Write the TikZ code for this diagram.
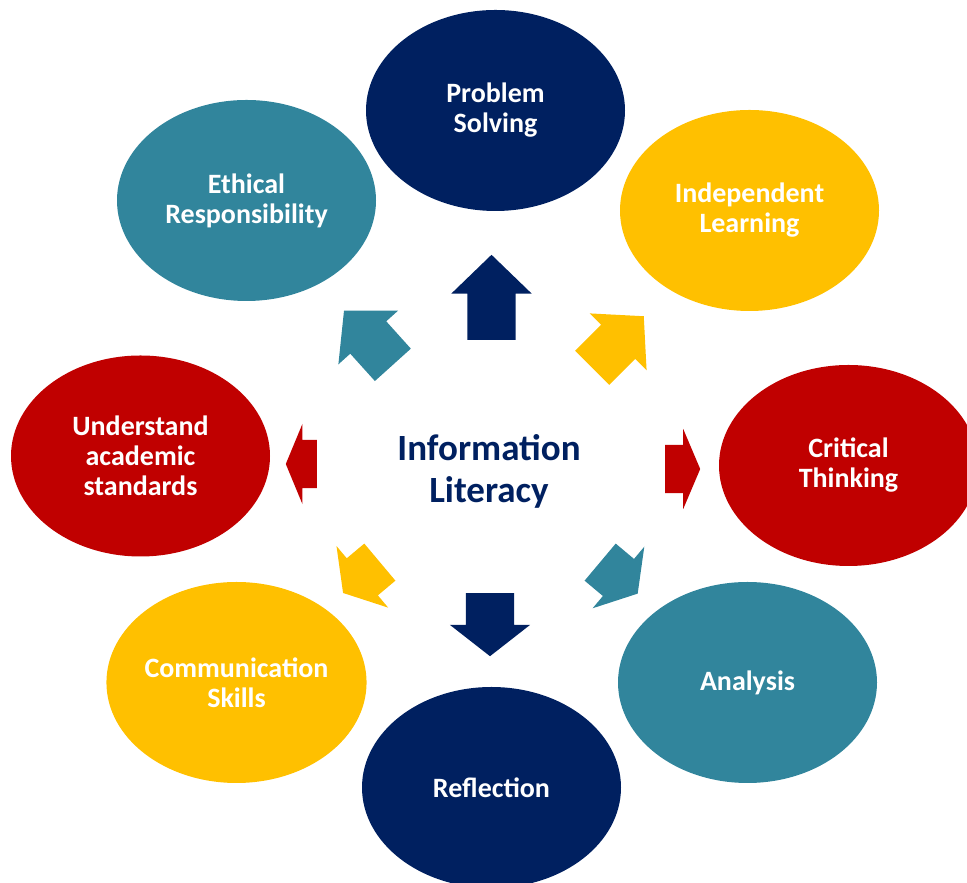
\documentclass[tikz,border=0pt]{standalone}
\usepackage{fontspec}
\setmainfont{Carlito}
\usetikzlibrary{shapes.geometric,shapes.arrows}
\definecolor{ilnavy}{HTML}{002060}
\definecolor{ilteal}{HTML}{31859C}
\definecolor{ilgold}{HTML}{FFC000}
\definecolor{ilred}{HTML}{C00000}
\tikzset{
  topic/.style    = {ellipse,minimum width=259pt,minimum height=201pt,inner sep=0pt,
                     text=white,align=center,font=\fontsize{28}{30}\selectfont\bfseries},
  blockarr/.style = {single arrow,draw=none,inner xsep=0pt,inner ysep=24pt,
                     single arrow head extend=16pt,single arrow head indent=0pt,anchor=tail},
  hub/.style      = {align=center,text=ilnavy,font=\fontsize{37}{42}\selectfont\bfseries}
}

\begin{document}
\begin{tikzpicture}[x=1pt,y=1pt]
  \useasboundingbox (0,0) rectangle (967,883);
  \clip (0,0) rectangle (967,883);

  % centre
  \node[hub] (info) at (489,412) {Information\\Literacy};

  % ring of topics
  \node[topic,fill=ilnavy] (solve)  at (495.5,772.5) {Problem\\Solving};
  \node[topic,fill=ilgold] (learn)  at (749.5,672.5) {Independent\\Learning};
  \node[topic,fill=ilred]  (crit)   at (848.5,417.5) {Critical\\Thinking};
  \node[topic,fill=ilteal] (anal)   at (747.5,200.5) {Analysis};
  \node[topic,fill=ilnavy] (refl)   at (491.5,95.5)  {Reflection};
  \node[topic,fill=ilgold] (comm)   at (236.5,200.5) {Communication\\Skills};
  \node[topic,fill=ilred]  (stand)  at (140.5,427)   {Understand\\academic\\standards};
  \node[topic,fill=ilteal] (ethic)  at (246.5,682.5) {Ethical\\Responsibility};

  % block arrows pointing outwards
  \node[blockarr,fill=ilnavy,rotate=90, minimum height=85pt,single arrow tip angle=92]  (aSolve) at (491.5,543) {};
  \node[blockarr,fill=ilgold,rotate=45, minimum height=73pt,single arrow tip angle=96]  (aLearn) at (592,515) {};
  \node[blockarr,fill=ilred, rotate=0,  minimum height=35pt,single arrow tip angle=134] (aCrit)  at (665,414) {};
  \node[blockarr,fill=ilteal,rotate=320,minimum height=49pt,single arrow tip angle=116] (aAnal)  at (600,321) {};
  \node[blockarr,fill=ilnavy,rotate=270,minimum height=63pt,single arrow tip angle=104] (aRefl)  at (490,290) {};
  \node[blockarr,fill=ilgold,rotate=220,minimum height=48pt,single arrow tip angle=116] (aComm)  at (380,321) {};
  \node[blockarr,fill=ilred, rotate=180,minimum height=31pt,single arrow tip angle=135] (aStand) at (317,419) {};
  \node[blockarr,fill=ilteal,rotate=132,minimum height=73pt,single arrow tip angle=96]  (aEthic) at (393,518) {};
\end{tikzpicture}
\end{document}
